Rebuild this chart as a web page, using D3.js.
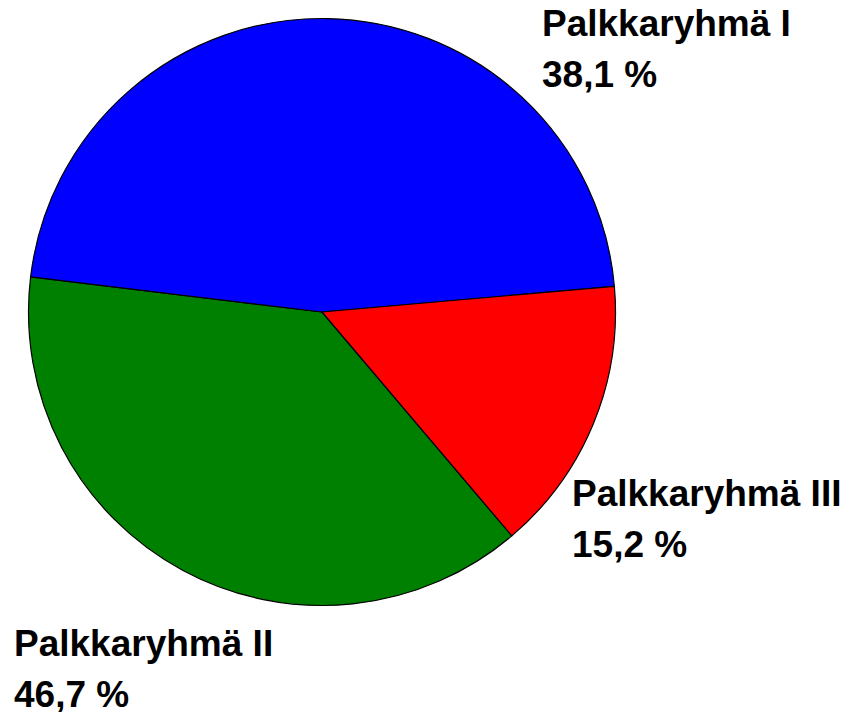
<!DOCTYPE html>
<html>
<head>
<meta charset="utf-8">
<script src="https://cdn.jsdelivr.net/npm/d3@7"></script>
<style>
  html, body { margin: 0; padding: 0; background: #fff; }
  .pie-label { font-family: "Liberation Sans", Arial, sans-serif; font-weight: bold; font-size: 37px; fill: #000; }
</style>
</head>
<body>
<div id="chart"></div>
<script>
const categories = ["Palkkaryhmä I", "Palkkaryhmä II", "Palkkaryhmä III"];
const values = [38.1, 46.7, 15.2];
const colors = ["#008000", "#0000ff", "#ff0000"];

const width = 853;
const height = 712;
const center = { x: 322, y: 312 };
const radius = 293.5;
// label anchors (text start, first baseline), as placed in the original
const labelPos = [[542, 36], [14, 656], [572, 506]];
const lineHeight = 51;

const fmt = d3.formatLocale({ decimal: ",", thousands: "\u00a0", grouping: [3], currency: ["", " €"] }).format(".1f");

const svg = d3.select("#chart").append("svg")
  .attr("width", width)
  .attr("height", height);

const pie = d3.pie()
  .sort(null)
  .value((d) => d)
  .startAngle((139.7 * Math.PI) / 180)
  .endAngle((139.7 * Math.PI) / 180 + 2 * Math.PI);

const arc = d3.arc().innerRadius(0).outerRadius(radius);

svg.append("g")
  .attr("transform", `translate(${center.x},${center.y})`)
  .selectAll("path")
  .data(pie(values))
  .join("path")
  .attr("d", arc)
  .attr("fill", (d, i) => colors[i])
  .attr("stroke", "#000")
  .attr("stroke-width", 1.2)
  .attr("stroke-linejoin", "round");

const labels = svg.selectAll(".pie-label")
  .data(categories)
  .join("text")
  .attr("class", "pie-label")
  .attr("x", (d, i) => labelPos[i][0])
  .attr("y", (d, i) => labelPos[i][1]);

labels.append("tspan").text((d) => d);
labels.append("tspan")
  .attr("x", (d, i) => labelPos[i][0])
  .attr("dy", lineHeight)
  .text((d, i) => `${fmt(values[i])} %`);
</script>
</body>
</html>
